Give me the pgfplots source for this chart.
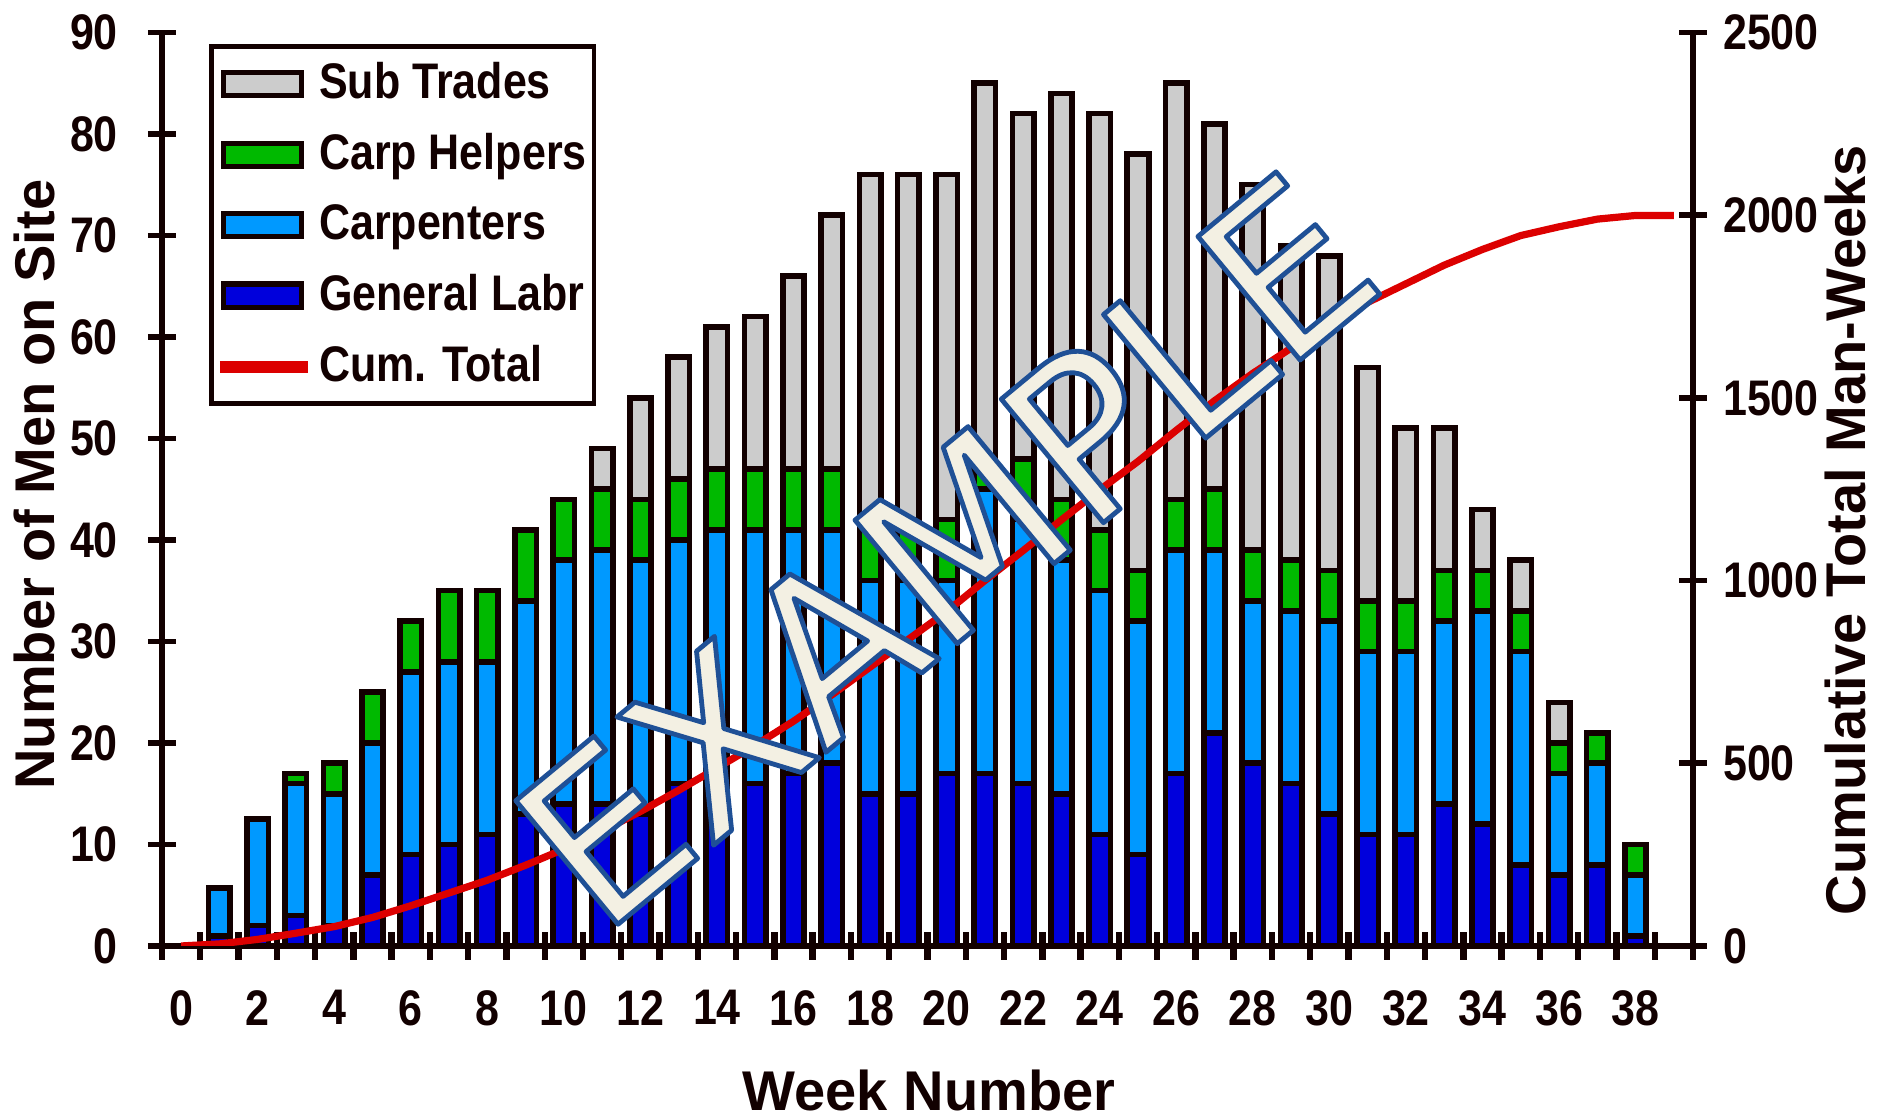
\documentclass[border=0pt]{standalone}
\usepackage{fontspec}
\setmainfont{Liberation Sans}[FakeStretch=0.86]
\newfontfamily\labelfont{Liberation Sans}
\newfontfamily\wmfont{DejaVu Sans}
\usepackage{pgfplots}
\pgfplotsset{compat=1.18}
\usepackage{pgfplotstable}

\definecolor{subcol}{HTML}{CCCCCC}
\definecolor{chcol}{HTML}{00B900}
\definecolor{cpcol}{HTML}{0099FF}
\definecolor{glcol}{HTML}{0000DC}
\definecolor{redcol}{HTML}{DC0000}
\definecolor{axcol}{HTML}{120000}
\definecolor{wmfill}{HTML}{F3F0E3}

% outlined watermark text: fill + stroke rendering mode
\newcommand\wmtext[1]{\special{pdf:literal direct 2 Tr 1 j 1.2 w 0.122 0.314 0.588 RG}#1\special{pdf:literal direct 0 Tr}}

\pgfplotsset{
  every non boxed x axis/.style={},
  every non boxed y axis/.style={},
  bar legend box/.style={legend image code/.code={\draw[##1,line width=1.3pt] (0pt,-2.9pt) rectangle (19.5pt,2.9pt);}},
  red legend line/.style={legend image code/.code={\draw[##1] (-1pt,0pt) -- (21pt,0pt);}},
}

% week, general labr, carpenters, carp helpers, sub trades
\pgfplotstableread{
wk gl cp ch st
1  1  4.7  0 0
2  2  10.5 0 0
3  3  13   1 0
4  2  13   3 0
5  7  13   5 0
6  9  18   5 0
7  10 18   7 0
8  11 17   7 0
9  13 21   7 0
10 14 24   6 0
11 14 25   6 4
12 13 25   6 10
13 16 24   6 12
14 16 25   6 14
15 16 25   6 15
16 17 24   6 19
17 18 23   6 25
18 15 21   6 34
19 15 21   6 34
20 17 19   6 34
21 17 28   3 37
22 16 26   6 34
23 15 23   6 40
24 11 24   6 41
25 9  23   5 41
26 17 22   5 41
27 21 18   6 36
28 18 16   5 36
29 16 17   5 31
30 13 19   5 31
31 11 18   5 23
32 11 18   5 17
33 14 18   5 14
34 12 21   4 6
35 8  21   4 5
36 7  10   3 4
37 8  10   3 0
38 1  6    3 0
}\crew

% cumulative man-weeks
\pgfplotstableread{
wk cum
0  0
1  5.7
2  18
3  35
4  53
5  78
6  110
7  145
8  180
9  221
10 265
11 314
12 368
13 426
14 487
15 549
16 615
17 687
18 763
19 839
20 915
21 1000
22 1082
23 1166
24 1248
25 1326
26 1411
27 1492
28 1567
29 1636
30 1704
31 1761
32 1812
33 1863
34 1906
35 1944
36 1968
37 1989
38 1999
39 1999
}\cumtot

\begin{document}
\begin{tikzpicture}
\pgfplotsset{
  chart base/.style={
    at={(0,0)}, anchor=south west,
    scale only axis, width=382.75pt, height=228.4pt,
    xmin=-0.5, xmax=39.5,
    axis line style={-, line width=1.6pt, draw=axcol},
    tick align=center,
    major tick length=7pt,
    tick style={line width=1.4pt, draw=axcol},
    ticklabel style={font=\fontsize{12.5}{14}\selectfont\bfseries, text=axcol},
    /pgf/number format/assume math mode=true,
    /pgf/number format/1000 sep={},
  },
}
\begin{axis}[
  chart base,
  ymin=0, ymax=90,
  axis x line=bottom, axis y line=left,
  ybar stacked, bar width=0.56,
  xtick={0,2,...,38},
  major x tick style={draw=none},
  minor xtick={-0.5,0.5,...,39.5},
  minor x tick style={line width=1.6pt, draw=axcol},
  minor tick length=7pt,
  ytick={0,10,...,90},
  xticklabel style={yshift=-4pt},
  yticklabel style={xshift=-4pt},
  every axis x label/.style={at={(axis description cs:0.501,-0.158)}, anchor=center},
  every axis y label/.style={at={(axis description cs:-0.083,0.505)}, rotate=90, anchor=center},
  xlabel={Week Number},
  ylabel={Number of Men on Site},
  label style={font=\labelfont\fontsize{14}{16}\selectfont\bfseries, text=axcol},
  every axis plot/.append style={draw=axcol, line width=1.4pt},
  reverse legend,
  legend style={at={(0.031,0.987)}, anchor=north west, draw=axcol, line width=1.2pt,
    fill=white, font=\fontsize{12.5}{15}\selectfont\bfseries, text=axcol,
    cells={anchor=west}, inner xsep=0.5pt, inner ysep=2pt, row sep=3.2pt,
    nodes={inner xsep=1.3pt}},
]
\addlegendimage{red legend line, draw=redcol, line width=3pt}
\addlegendentry{Cum. Total}
\addplot[fill=glcol, bar legend box] table[x=wk, y=gl] {\crew};
\addlegendentry{General Labr}
\addplot[fill=cpcol, bar legend box] table[x=wk, y=cp] {\crew};
\addlegendentry{Carpenters}
\addplot[fill=chcol, bar legend box] table[x=wk, y=ch] {\crew};
\addlegendentry{Carp Helpers}
\addplot[fill=subcol, bar legend box] table[x=wk, y=st] {\crew};
\addlegendentry{Sub Trades}
\coordinate (wm) at (axis cs:21.29,32.94);
\end{axis}

\begin{axis}[
  chart base,
  ymin=0, ymax=2500,
  axis x line=none, axis y line=right,
  ytick={0,500,...,2500},
  yticklabel style={xshift=0.5pt},
  every axis y label/.style={at={(axis description cs:1.0999,0.455)}, rotate=90, anchor=center},
  ylabel={Cumulative Total Man-Weeks},
  label style={font=\labelfont\fontsize{14}{16}\selectfont\bfseries, text=axcol},
]
\addplot[redcol, line width=1.8pt, mark=none] table[x=wk, y=cum] {\cumtot};
\end{axis}

\node[rotate=39.6, anchor=base, inner sep=0pt, font=\wmfont\fontsize{55}{60}\selectfont] at (wm)
  {\textcolor{wmfill}{\wmtext{EXAMPLE}}};

\pgfresetboundingbox
\path[use as bounding box] (-40.5pt,-43.5pt) rectangle (429.25pt,236.5pt);
\end{tikzpicture}
\end{document}
